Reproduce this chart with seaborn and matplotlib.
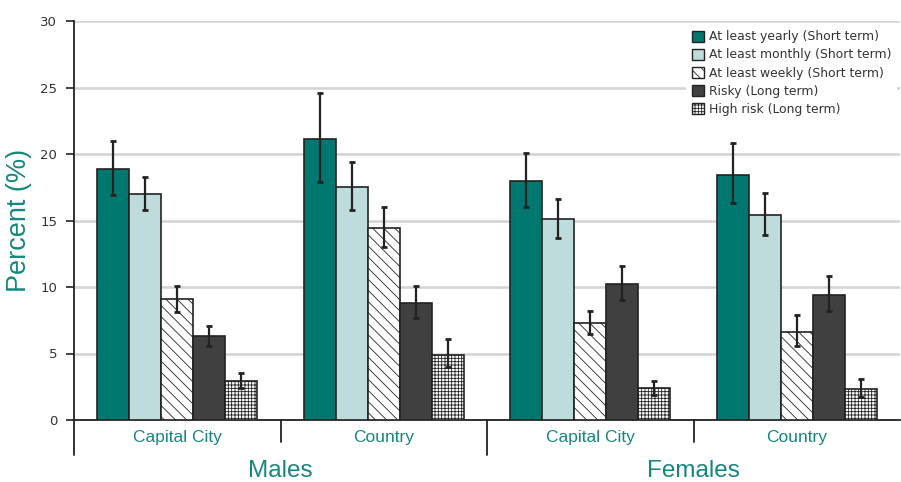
import matplotlib
matplotlib.use("Agg")
import matplotlib.pyplot as plt
from matplotlib.patches import Patch
from matplotlib.lines import Line2D
import numpy as np
import pandas as pd
import seaborn as sns

# ---- data -------------------------------------------------------------
sexes = ["Males", "Males", "Females", "Females"]
places = ["Capital City", "Country", "Capital City", "Country"]
measures = [
    "At least yearly (Short term)",
    "At least monthly (Short term)",
    "At least weekly (Short term)",
    "Risky (Long term)",
    "High risk (Long term)",
]
yearly = [18.9, 21.1, 18.0, 18.4]
monthly = [17.0, 17.5, 15.1, 15.4]
weekly = [9.1, 14.4, 7.3, 6.6]
risky = [6.3, 8.8, 10.2, 9.4]
high_risk = [2.9, 4.9, 2.4, 2.3]

# 95% confidence limits (lower, upper)
yearly_lo = [16.9, 17.9, 16.0, 16.3]
yearly_hi = [21.0, 24.6, 20.1, 20.8]
monthly_lo = [15.8, 15.8, 13.7, 13.9]
monthly_hi = [18.3, 19.4, 16.6, 17.1]
weekly_lo = [8.1, 13.0, 6.5, 5.6]
weekly_hi = [10.1, 16.0, 8.2, 7.9]
risky_lo = [5.6, 7.7, 9.0, 8.2]
risky_hi = [7.1, 10.1, 11.6, 10.8]
high_lo = [2.4, 4.0, 1.85, 1.7]
high_hi = [3.5, 6.1, 2.9, 3.1]

y_ticks = [0, 5, 10, 15, 20, 25, 30]

series = [yearly, monthly, weekly, risky, high_risk]
lows = [yearly_lo, monthly_lo, weekly_lo, risky_lo, high_lo]
highs = [yearly_hi, monthly_hi, weekly_hi, risky_hi, high_hi]

cells = [f"{s} {p}" for s, p in zip(sexes, places)]
rows = []
for m, vals, lo, hi in zip(measures, series, lows, highs):
    for c, v, l, h in zip(cells, vals, lo, hi):
        rows.append({"cell": c, "measure": m, "pct": v, "lo": l, "hi": h})
df = pd.DataFrame(rows)

# ---- style ------------------------------------------------------------
TEAL = "#00786F"
TEAL_TEXT = "#16877F"
LIGHT = "#BFDCDC"
DARK = "#404040"
EDGE = "#222222"
GRID = "#D3D3D3"
LABEL_FONT = ["Liberation Sans", "DejaVu Sans"]

sns.set_style("white")
plt.rcParams["font.family"] = ["DejaVu Sans"]
plt.rcParams["hatch.linewidth"] = 0.6

fills = [TEAL, LIGHT, "white", DARK, "white"]
hatches = [None, None, "\\\\\\", None, "+++++"]
hatch_colors = [None, None, "#555555", None, "#333333"]

fig = plt.figure(figsize=(9.01, 4.82), dpi=100)
ax = fig.add_axes([74 / 901, 62 / 482, 826 / 901, 399 / 482])

sns.barplot(
    data=df, x="cell", y="pct", hue="measure", order=cells,
    hue_order=measures, palette=fills, width=0.775, errorbar=None,
    edgecolor=EDGE, linewidth=1.2, saturation=1, legend=False, ax=ax,
    zorder=3,
)

for cont, hatch, hcol, m in zip(ax.containers, hatches, hatch_colors, measures):
    sub = df[df["measure"] == m].set_index("cell").loc[cells]
    xs = []
    for bar in cont:
        if hatch:
            bar.set_hatch(hatch)
            if hasattr(bar, "set_hatchcolor"):
                bar.set_hatchcolor(hcol)
        xs.append(bar.get_x() + bar.get_width() / 2)
    xs = np.array(xs)
    ax.errorbar(
        xs, sub["pct"].values,
        yerr=[sub["pct"].values - sub["lo"].values, sub["hi"].values - sub["pct"].values],
        fmt="none", ecolor=EDGE, elinewidth=1.6, capsize=2.0, capthick=2.0,
        zorder=5,
    )

# axes
ax.set_ylim(0, 30)
ax.set_xlim(-0.5, 3.5)
ax.set_yticks(y_ticks)
ax.yaxis.grid(True, color=GRID, linewidth=1.8, zorder=0)
ax.set_axisbelow(True)
for side in ["top", "right"]:
    ax.spines[side].set_visible(False)
ax.spines["left"].set_color(EDGE)
ax.spines["left"].set_linewidth(1.3)
ax.spines["bottom"].set_color(EDGE)
ax.spines["bottom"].set_linewidth(1.3)
ax.tick_params(axis="y", length=6, width=1.2, color=EDGE, labelsize=9.5,
               labelcolor="#333333", pad=6, left=True)
ax.tick_params(axis="x", length=0, pad=7)
ax.set_xticks(range(len(cells)))
ax.set_xticklabels(places, color=TEAL_TEXT, fontsize=12.5, family=LABEL_FONT)
ax.set_xlabel("")
ax.set_ylabel("Percent (%)", color=TEAL_TEXT, fontsize=19.5,
              family=LABEL_FONT, labelpad=6)

# separators below the axis
xt = ax.get_xaxis_transform()
for xpos, depth in [(-0.5, -0.088), (0.5, -0.055), (1.5, -0.088), (2.5, -0.055)]:
    ax.add_line(Line2D([xpos, xpos], [0, depth], transform=xt, color=EDGE,
                       linewidth=1.3, clip_on=False))

# sex labels
for xpos, lab in [(0.5, "Males"), (2.5, "Females")]:
    ax.text(xpos, -0.128, lab, transform=xt, ha="center", va="center",
            color=TEAL_TEXT, fontsize=17.5, family=LABEL_FONT)

# legend
handles = [Patch(facecolor=f, edgecolor=EDGE, hatch=h, linewidth=1.0)
           for f, h in zip(fills, hatches)]
leg = ax.legend(
    handles, measures, loc="upper left", bbox_to_anchor=(0.737, 1.0),
    fontsize=8.9, frameon=True, handlelength=1.0, handleheight=1.0,
    handletextpad=0.4, labelspacing=0.42, borderpad=0.45, borderaxespad=0.3,
)
leg.get_frame().set_facecolor("white")
leg.get_frame().set_edgecolor("none")
leg.get_frame().set_alpha(1)
leg.set_zorder(6)
for t in leg.get_texts():
    t.set_color("#333333")

fig.savefig("out.png", dpi=100)
